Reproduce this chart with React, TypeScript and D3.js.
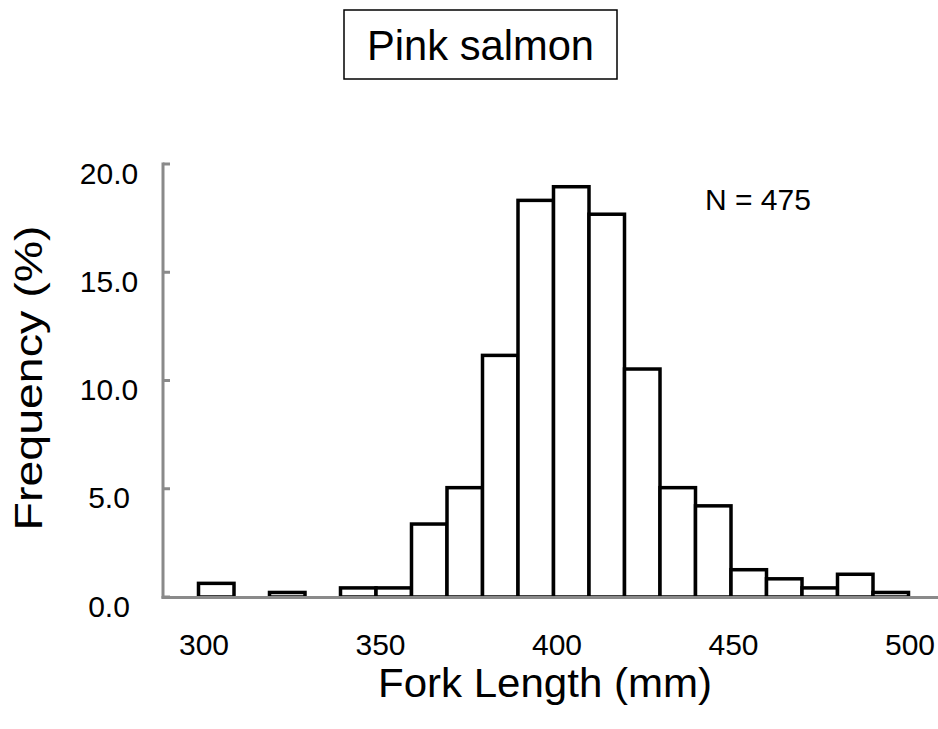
import React from "react";
import * as d3 from "d3";

const categories: number[] = [290, 300, 310, 320, 330, 340, 350, 360, 370, 380, 390, 400, 410, 420, 430, 440, 450, 460, 470, 480, 490, 500];
const frequency: number[] = [0, 0.63, 0, 0.21, 0, 0.42, 0.42, 3.37, 5.05, 11.16, 18.32, 18.95, 17.68, 10.53, 5.05, 4.21, 1.26, 0.84, 0.42, 1.05, 0.21, 0];
const yTicks: number[] = [0, 5, 10, 15, 20];
const xTickLabels: number[] = [300, 350, 400, 450, 500];
const title = "Pink salmon";
const xTitle = "Fork Length (mm)";
const yTitle = "Frequency (%)";
const note = "N = 475";

const W = 938;
const H = 729;
const FONT = "'Liberation Sans', Arial, sans-serif";
const AXIS = "#8a8a8a";

export default function App() {
  const x = d3
    .scaleBand<number>()
    .domain(categories)
    .range([163, 944])
    .paddingInner(0)
    .paddingOuter(0);
  const y = d3.scaleLinear().domain([0, 20]).range([597, 164]);
  const xl = d3.scaleLinear().domain([300, 500]).range([204, 910]);
  const fmt = d3.format(".1f");
  const bars = categories
    .map((c, i) => ({ c, v: frequency[i] }))
    .filter((d) => d.v > 0);

  return (
    <svg
      width={W}
      height={H}
      style={{ position: "absolute", left: 0, top: 0, background: "#fff" }}
      fontFamily={FONT}
    >
      <rect x={0} y={0} width={W} height={H} fill="#fff" />
      {/* title box */}
      <rect x={344} y={10} width={273} height={69} fill="#fff" stroke="#000" strokeWidth={1.5} />
      <text x={480.5} y={60} fontSize={42} textAnchor="middle" textLength={227} lengthAdjust="spacingAndGlyphs">
        {title}
      </text>

      {/* bars */}
      {bars.map((d) => (
        <rect
          key={d.c}
          x={x(d.c)}
          y={y(d.v)}
          width={x.bandwidth()}
          height={y(0) - y(d.v)}
          fill="#fff"
          stroke="#000"
          strokeWidth={3.5}
        />
      ))}

      {/* axes */}
      <line x1={163} x2={163} y1={y(20) - 1.5} y2={y(0) + 1.5} stroke={AXIS} strokeWidth={3} />
      <line x1={161.5} x2={944} y1={y(0) + 0.5} y2={y(0) + 0.5} stroke={AXIS} strokeWidth={3} />
      {yTicks.map((t) => (
        <g key={t}>
          <line x1={163} x2={170} y1={y(t)} y2={y(t)} stroke={AXIS} strokeWidth={3} />
          <text x={109} y={y(t) + 19.5} fontSize={30} textAnchor="middle">
            {fmt(t)}
          </text>
        </g>
      ))}
      {xTickLabels.map((t) => (
        <text key={t} x={xl(t)} y={655} fontSize={30} textAnchor="middle">
          {t}
        </text>
      ))}

      {/* axis titles */}
      <text x={545} y={697} fontSize={40} textAnchor="middle" textLength={334} lengthAdjust="spacingAndGlyphs">
        {xTitle}
      </text>
      <text
        transform={`translate(42, 378) rotate(-90)`}
        fontSize={38}
        textAnchor="middle"
        textLength={305}
        lengthAdjust="spacingAndGlyphs"
      >
        {yTitle}
      </text>

      <text x={705} y={210} fontSize={30}>
        {note}
      </text>
    </svg>
  );
}
